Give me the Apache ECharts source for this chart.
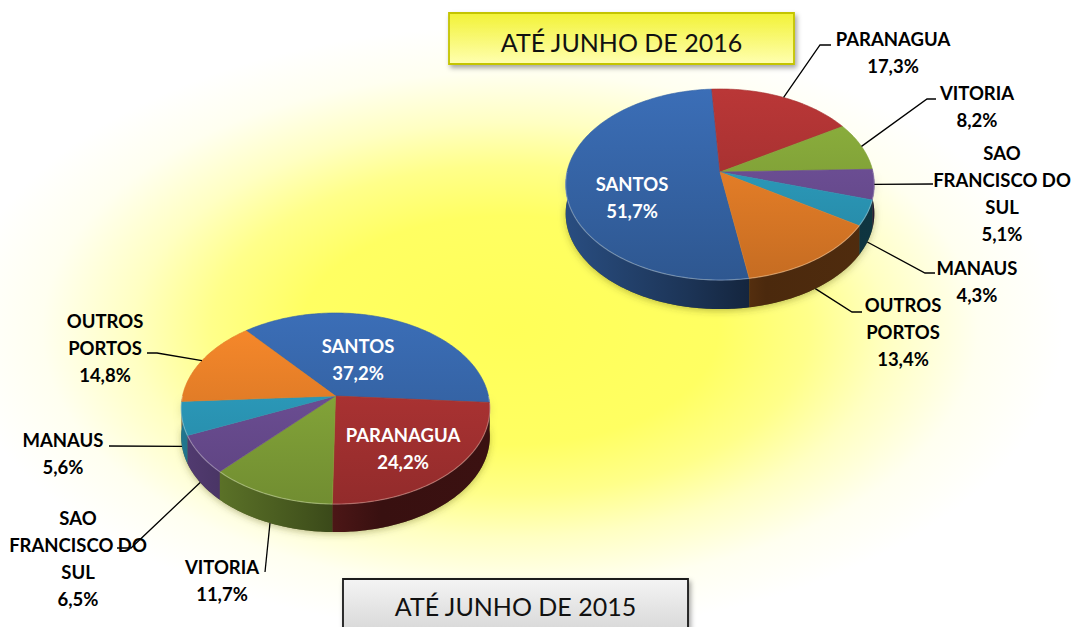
<!DOCTYPE html>
<html><head><meta charset="utf-8">
<script src="https://cdn.jsdelivr.net/npm/echarts@6/dist/echarts.min.js"></script>
<style>html,body{margin:0;padding:0;background:#fff}#c{width:1073px;height:627px}</style>
</head><body><div id="c"></div>
<script>
// ---- data ----
const categories = ['SANTOS','PARANAGUA','VITORIA','SAO FRANCISCO DO SUL','MANAUS','OUTROS PORTOS'];
const values2016 = [51.7, 17.3, 8.2, 5.1, 4.3, 13.4];
const values2015 = [37.2, 24.2, 11.7, 6.5, 5.6, 14.8];
const title2016 = 'ATÉ JUNHO DE 2016';
const title2015 = 'ATÉ JUNHO DE 2015';
const labelWrap = {'SAO FRANCISCO DO SUL':'SAO\nFRANCISCO DO\nSUL','OUTROS PORTOS':'OUTROS\nPORTOS'};

// ---- styles / layout ----
const sliceColors = ['#3767ab','#ae3333','#86a83a','#6d4f96','#2c9cbd','#ea8128'];
const FONT = 'Lato, "Open Sans", sans-serif';
const layout2016 = {cx:720, cy:172, R:153, K:93.9, p:0.131, depth:29, start:170.4,
  labels:[
    {inside:true, x:632, y:197},
    {pts:[[820,45],[831,45]], x:893, y:52},
    {pts:[[927,99],[936,99]], x:977, y:106},
    {pts:[[933,184]], x:1002, y:193},
    {pts:[[925,273],[935,273]], x:977, y:281},
    {pts:[[852,312],[862,312]], x:903, y:332}
  ]};
const layout2015 = {cx:335.5, cy:396, R:153, K:93.9, p:0.131, depth:28, start:320,
  labels:[
    {inside:true, x:358, y:359},
    {inside:true, x:403, y:448},
    {pts:[[265,572]], x:222, y:580},
    {pts:[[131,548],[117,548]], x:78, y:558},
    {pts:[[109,446]], x:63, y:453},
    {pts:[[157,353],[147,353]], x:105, y:348}
  ]};

function shade(hex, f) {
  const n = parseInt(hex.slice(1), 16);
  const c = [(n>>16)&255, (n>>8)&255, n&255].map(v => Math.max(0, Math.min(255, Math.round(v*f))));
  return 'rgb(' + c.join(',') + ')';
}
function proj(L, deg, dz) {
  const t = deg*Math.PI/180, u = Math.sin(t), v = -Math.cos(t), f = 1/(1 - L.p*v);
  return [L.cx + L.R*u*f, L.cy + L.K*v*f + (dz||0)];
}
function arc(L, a, b, dz) {
  const pts = [], n = Math.max(2, Math.ceil(Math.abs(b-a)));
  for (let i = 0; i <= n; i++) pts.push(proj(L, a + (b-a)*i/n, dz));
  return pts;
}
function sliceAngles(L, vals) {
  const total = vals.reduce((s,v)=>s+v, 0);
  let acc = L.start;
  return vals.map(v => { const a = acc; acc += 360*v/total; return [a, acc]; });
}
const FRONT = [[-270,-90],[90,270],[450,630]];

function pieSeries(L, vals, id) {
  const ang = sliceAngles(L, vals);
  const data = vals.map((v,i)=>({name: categories[i], value:[v, i]}));
  const topY = L.cy - L.K/(1+L.p), botY = L.cy + L.K/(1-L.p);
  const sides = {
    type:'custom', id: id+'side', coordinateSystem:'none', z:2, silent:true, data,
    renderItem(params, api) {
      const i = params.dataIndex, [a,b] = ang[i], col = sliceColors[i];
      const children = [];
      if (i === 0) {
        const sil = arc(L, 90, 270, 0).concat(arc(L, 270, 90, L.depth));
        children.push({type:'polygon', z2:-10, shape:{points:sil},
          style:{fill:'rgba(40,40,0,0.6)', shadowBlur:7, shadowColor:'rgba(60,60,0,0.55)', shadowOffsetY:2}});
      }
      for (const [lo,hi] of FRONT) {
        const s = Math.max(a, lo), e = Math.min(b, hi);
        if (e > s) {
          const pts = arc(L, s, e, 0).concat(arc(L, e, s, L.depth));
          children.push({type:'polygon', shape:{points:pts}, style:{
            fill:{type:'linear', global:true, x:L.cx-L.R, y:0, x2:L.cx+L.R, y2:0,
              colorStops:[{offset:0,color:shade(col,0.75)},{offset:0.4,color:shade(col,0.5)},
                          {offset:0.65,color:shade(col,0.32)},{offset:1,color:shade(col,0.34)}]},
            stroke:null}});
        }
      }
      return {type:'group', children};
    }
  };
  const tops = {
    type:'custom', id: id+'top', coordinateSystem:'none', z:3, silent:true, data,
    renderItem(params, api) {
      const i = params.dataIndex, [a,b] = ang[i], col = sliceColors[i];
      const pts = [[L.cx, L.cy]].concat(arc(L, a, b, 0));
      const children = [{type:'polygon', shape:{points:pts}, style:{
        fill:{type:'linear', global:true, x:0, y:topY, x2:0, y2:botY,
          colorStops:[{offset:0,color:shade(col,1.07)},{offset:1,color:shade(col,0.84)}]},
        stroke:shade(col,0.95), lineWidth:0.6}}];
      for (const [lo,hi] of FRONT) {
        const s = Math.max(a, lo), e = Math.min(b, hi);
        if (e > s) children.push({type:'polyline', shape:{points:arc(L, s, e, 0)},
          style:{stroke:'rgba(255,255,255,0.28)', lineWidth:1.2, fill:null}});
      }
      return {type:'group', children};
    }
  };
  const labels = {
    type:'custom', id: id+'lab', coordinateSystem:'none', z:4, silent:true, data,
    renderItem(params, api) {
      const i = params.dataIndex, [a,b] = ang[i], lab = L.labels[i];
      const name = categories[i], val = api.value(0);
      const txt = (labelWrap[name] || name) + '\n' + val.toFixed(1).replace('.', ',') + '%';
      const children = [];
      if (!lab.inside) {
        const mid = (a+b)/2, v = -Math.cos(mid*Math.PI/180);
        const start = proj(L, mid, v > 0.2 ? L.depth : 0);
        children.push({type:'polyline', shape:{points:[start].concat(lab.pts)},
          style:{stroke:'#000', lineWidth:1.3, fill:null}});
      }
      children.push({type:'text', style:{text:txt, x:lab.x, y:lab.y, align:'center', verticalAlign:'middle',
        fill: lab.inside ? '#ffffff' : '#000000', font:'bold 18.5px ' + FONT, lineHeight:27}});
      return {type:'group', children};
    }
  };
  return [sides, tops, labels];
}

function titleBox(x, y, w, h, text, fill, stroke, ty) {
  return {type:'group', children:[
    {type:'rect', shape:{x, y, width:w, height:h}, style:{fill, stroke, lineWidth:1.8,
      shadowBlur:5, shadowColor:'rgba(0,0,0,0.35)', shadowOffsetX:2, shadowOffsetY:3}},
    {type:'text', style:{text, x:x+w/2, y:ty, align:'center', verticalAlign:'middle',
      fill:'#111', font:'25px ' + FONT}}
  ]};
}

const chart = echarts.init(document.getElementById('c'), null, {renderer:'svg'});
chart.setOption({
  backgroundColor:'#ffffff',
  animation:false,
  graphic:[
    {type:'rect', z:-10, x:510, y:330, scaleX:1, scaleY:0.55, silent:true,
      shape:{x:-650, y:-650, width:1300, height:1300},
      style:{fill:{type:'radial', x:0.5, y:0.5, r:0.5, colorStops:[
        {offset:0, color:'#ffff58'},{offset:0.32, color:'#ffff62'},{offset:0.46, color:'#ffff8a'},
        {offset:0.58, color:'#ffffc2'},{offset:0.72, color:'#fffff0'},{offset:0.85, color:'#ffffff'},{offset:1, color:'#ffffff'}]}}},
    titleBox(449, 13, 345, 51, title2016,
      {type:'linear', x:0, y:0, x2:0, y2:1, colorStops:[{offset:0,color:'#f2f236'},{offset:1,color:'#ffffb0'}]},
      '#c4c400', 42),
    titleBox(343, 579, 345, 60, title2015,
      {type:'linear', x:0, y:0, x2:0, y2:1, colorStops:[{offset:0,color:'#f4f4f4'},{offset:1,color:'#d4d4d4'}]},
      '#1a1a1a', 606)
  ],
  series: pieSeries(layout2016, values2016, 'p16').concat(pieSeries(layout2015, values2015, 'p15'))
});
</script></body></html>
